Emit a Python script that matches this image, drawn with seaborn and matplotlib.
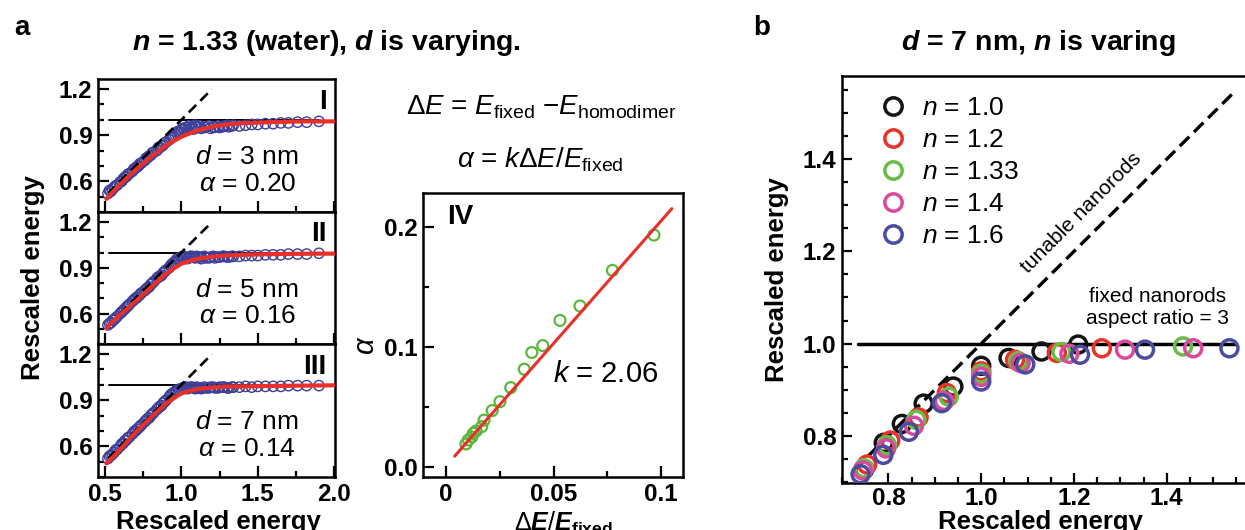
import numpy as np
import pandas as pd
import matplotlib
matplotlib.use("Agg")
import matplotlib.pyplot as plt
import seaborn as sns
from matplotlib.lines import Line2D
from matplotlib.ticker import MultipleLocator

# ---------------- data ----------------
# panel a (I-III): rescaled energy scatter (blue) + red fits
blue_x = [0.52, 0.53, 0.54, 0.56, 0.57, 0.58, 0.60, 0.61, 0.62, 0.64,
          0.65, 0.66, 0.68, 0.69, 0.70, 0.72, 0.73, 0.74, 0.76, 0.77,
          0.78, 0.80, 0.81, 0.82, 0.84, 0.85, 0.86, 0.88, 0.89, 0.90,
          0.92, 0.93, 0.94, 0.96, 0.97, 0.98, 1.00, 1.01, 1.03, 1.05,
          1.07, 1.09, 1.11, 1.13, 1.16, 1.19, 1.22, 1.25, 1.28, 1.31,
          1.34, 1.38, 1.42, 1.46, 1.50, 1.55, 1.60, 1.65, 1.70, 1.76,
          1.82, 1.90]
d3_y = [0.52, 0.54, 0.535, 0.56, 0.57, 0.575, 0.595, 0.60, 0.615, 0.63,
        0.645, 0.65, 0.665, 0.68, 0.685, 0.70, 0.715, 0.72, 0.735, 0.75,
        0.755, 0.77, 0.785, 0.79, 0.80, 0.82, 0.82, 0.835, 0.85, 0.855,
        0.87, 0.885, 0.89, 0.905, 0.92, 0.925, 0.935, 0.945, 0.95, 0.96,
        0.955, 0.965, 0.95, 0.945, 0.955, 0.945, 0.955, 0.95, 0.96, 0.955,
        0.965, 0.96, 0.965, 0.97, 0.97, 0.975, 0.975, 0.98, 0.98, 0.985,
        0.985, 0.99]
d5_y = [0.525, 0.535, 0.54, 0.56, 0.57, 0.58, 0.60, 0.61, 0.62, 0.64,
        0.65, 0.66, 0.68, 0.69, 0.70, 0.715, 0.725, 0.735, 0.75, 0.76,
        0.77, 0.79, 0.80, 0.81, 0.83, 0.84, 0.845, 0.865, 0.875, 0.885,
        0.90, 0.915, 0.925, 0.94, 0.955, 0.96, 0.97, 0.975, 0.97, 0.965,
        0.975, 0.965, 0.97, 0.96, 0.965, 0.97, 0.965, 0.97, 0.975, 0.97,
        0.975, 0.975, 0.98, 0.98, 0.98, 0.985, 0.985, 0.985, 0.99, 0.99,
        0.99, 0.995]
d7_y = [0.52, 0.535, 0.54, 0.56, 0.575, 0.58, 0.60, 0.615, 0.62, 0.64,
        0.655, 0.66, 0.68, 0.695, 0.70, 0.72, 0.73, 0.74, 0.76, 0.77,
        0.78, 0.80, 0.81, 0.82, 0.84, 0.85, 0.86, 0.88, 0.89, 0.90,
        0.92, 0.935, 0.94, 0.955, 0.965, 0.97, 0.975, 0.98, 0.985, 0.98,
        0.985, 0.975, 0.98, 0.975, 0.98, 0.985, 0.98, 0.985, 0.985, 0.98,
        0.985, 0.985, 0.99, 0.985, 0.99, 0.99, 0.99, 0.99, 0.995, 0.995,
        0.995, 0.995]
# extra overlapping points near the knee / plateau (denser cloud)
extra_x = [0.55, 0.63, 0.71, 0.79, 0.87, 0.95, 0.99, 1.02, 1.04, 1.06,
           1.08, 1.10, 1.12, 1.15, 1.18, 1.21, 1.24, 1.27, 1.30, 1.33]
extra3_y = [0.55, 0.625, 0.695, 0.765, 0.83, 0.895, 0.92, 0.94, 0.935, 0.945,
            0.94, 0.955, 0.96, 0.95, 0.96, 0.95, 0.96, 0.955, 0.965, 0.96]
extra5_y = [0.555, 0.63, 0.705, 0.775, 0.85, 0.935, 0.955, 0.965, 0.96, 0.975,
            0.97, 0.975, 0.97, 0.975, 0.965, 0.975, 0.97, 0.975, 0.97, 0.975]
extra7_y = [0.55, 0.635, 0.71, 0.785, 0.865, 0.95, 0.965, 0.985, 0.975, 0.985,
            0.98, 0.985, 0.98, 0.985, 0.98, 0.985, 0.98, 0.985, 0.98, 0.985]
fit_x = [0.51, 0.58, 0.69, 0.80, 0.90, 1.00, 1.10, 1.20, 1.30, 1.40, 1.60, 1.80, 2.00]
fit3_y = [0.485, 0.56, 0.665, 0.757, 0.834, 0.89, 0.93, 0.955, 0.97, 0.978, 0.986, 0.99, 0.99]
fit5_y = [0.505, 0.575, 0.67, 0.77, 0.862, 0.927, 0.958, 0.973, 0.981, 0.985, 0.99, 0.992, 0.993]
fit7_y = [0.488, 0.557, 0.68, 0.787, 0.88, 0.945, 0.972, 0.983, 0.988, 0.99, 0.993, 0.995, 0.997]
diag_a = [0.52, 1.20]
hline_a_x = [0.53, 1.90]
panel_a_labels = ["I", "II", "III"]
panel_a_d = ["3", "5", "7"]
panel_a_alpha = ["0.20", "0.16", "0.14"]

# panel IV: alpha vs dE/E_fixed
iv_x = [0.0093, 0.0104, 0.0120, 0.0127, 0.0140, 0.0166, 0.0177, 0.0215, 0.0251,
        0.0301, 0.0364, 0.0399, 0.0450, 0.0530, 0.0623, 0.0774, 0.0967]
iv_y = [0.0192, 0.0225, 0.0250, 0.0280, 0.0300, 0.0336, 0.0390, 0.0470, 0.0544,
        0.0661, 0.0814, 0.0953, 0.1010, 0.1220, 0.1340, 0.1636, 0.1930]
iv_fit_x = [0.004, 0.105]
iv_fit_y = [0.009, 0.215]

# panel b: d = 7 nm, n varying
n_labels = ["1.0", "1.2", "1.33", "1.4", "1.6"]
n_colors = ["#141414", "#e8332c", "#69bd45", "#d8499f", "#4b4c9e"]
b_x = {
    "1.0":  [0.748, 0.790, 0.829, 0.876, 0.940, 1.000, 1.059, 1.130, 1.209],
    "1.2":  [0.754, 0.804, 0.865, 0.926, 1.000, 1.073, 1.163, 1.260],
    "1.33": [0.747, 0.797, 0.860, 0.930, 1.000, 1.080, 1.173, 1.435],
    "1.4":  [0.745, 0.795, 0.855, 0.920, 1.000, 1.085, 1.190, 1.310, 1.457],
    "1.6":  [0.740, 0.789, 0.844, 0.915, 1.000, 1.095, 1.213, 1.353, 1.535],
}
b_y = {
    "1.0":  [0.728, 0.785, 0.826, 0.870, 0.907, 0.952, 0.969, 0.983, 0.998],
    "1.2":  [0.738, 0.790, 0.840, 0.893, 0.940, 0.965, 0.980, 0.990],
    "1.33": [0.730, 0.780, 0.835, 0.885, 0.935, 0.962, 0.982, 0.994],
    "1.4":  [0.725, 0.773, 0.822, 0.876, 0.928, 0.958, 0.978, 0.987, 0.990],
    "1.6":  [0.717, 0.759, 0.809, 0.871, 0.918, 0.955, 0.976, 0.987, 0.990],
}
diag_b = [0.725, 1.54]
hline_b_x = [0.735, 1.55]

a_xticks = [0.5, 1.0, 1.5, 2.0]
a_xticklabels = ["0.5", "1.0", "1.5", "2.0"]
a_yticks = [0.6, 0.9, 1.2]
a_yticklabels = ["0.6", "0.9", "1.2"]
iv_xticks = [0.0, 0.05, 0.1]
iv_xticklabels = ["0", "0.05", "0.1"]
iv_yticks = [0.0, 0.1, 0.2]
iv_yticklabels = ["0.0", "0.1", "0.2"]
b_ticks = [0.8, 1.0, 1.2, 1.4]
b_ticklabels = ["0.8", "1.0", "1.2", "1.4"]

# ---------------- style ----------------
sns.set_theme(style="ticks")
plt.rcParams['font.family'] = ['Liberation Sans', 'DejaVu Sans']
plt.rcParams['text.color'] = 'black'
plt.rcParams['axes.labelcolor'] = 'black'
plt.rcParams['xtick.color'] = 'black'
plt.rcParams['ytick.color'] = 'black'
plt.rcParams['mathtext.fontset'] = 'custom'
plt.rcParams['mathtext.rm'] = 'Liberation Sans'
plt.rcParams['mathtext.it'] = 'Liberation Sans:italic'
plt.rcParams['mathtext.bf'] = 'Liberation Sans:bold'
try:
    plt.rcParams['mathtext.bfit'] = 'Liberation Sans:bold:italic'
except KeyError:
    pass

W, H = 1245, 530
fig = plt.figure(figsize=(W / 100, H / 100), dpi=100)


def px_axes(l, t, r, b):
    return fig.add_axes([l / W, 1 - b / H, (r - l) / W, (b - t) / H])


def ftext(x, y, s, **kw):
    return fig.text(x / W, 1 - y / H, s, **kw)


def open_scatter(ax, x, y, color, s, lw):
    sns.scatterplot(x=x, y=y, color=color, s=s, linewidth=lw, ax=ax, legend=False)
    coll = ax.collections[-1]
    coll.set_facecolors('none')
    coll.set_edgecolors(color)
    coll.set_linewidths(lw)


TICK_FONT = 17.5


def style_axes(ax, lw=1.8):
    for sp in ax.spines.values():
        sp.set_linewidth(lw)
        sp.set_color('black')
        sp.set_visible(True)
    ax.tick_params(which='both', direction='in', top=False, right=False,
                   colors='black', width=1.6)
    ax.tick_params(which='major', length=8, labelsize=TICK_FONT, pad=4)
    ax.tick_params(which='minor', length=4.5)
    ax.set_xlabel('')
    ax.set_ylabel('')


BLUE = "#3d3f9a"
RED = "#e8302a"

# ---------------- panel a I-III ----------------
axes_a = [px_axes(98, 79, 335, 212), px_axes(98, 212, 335, 344), px_axes(98, 344, 335, 477)]
ys_a = [d3_y, d5_y, d7_y]
extras_a = [extra3_y, extra5_y, extra7_y]
fits_a = [fit3_y, fit5_y, fit7_y]
for i, ax in enumerate(axes_a):
    ax.plot(hline_a_x, [1.0, 1.0], color='black', lw=1.4, zorder=1)
    ax.plot(diag_a, diag_a, color='black', lw=1.9, ls=(0, (4, 2.2)), zorder=4)
    open_scatter(ax, blue_x + extra_x, ys_a[i] + extras_a[i], BLUE, 55, 1.0)
    sns.lineplot(x=fit_x, y=fits_a[i], sort=False, color=RED, lw=3.0, ax=ax, zorder=5)
    ax.set_xlim(0.455, 2.005)
    ax.set_ylim(0.40, 1.266)
    style_axes(ax)
    ax.set_xticks(a_xticks)
    ax.xaxis.set_minor_locator(MultipleLocator(0.25))
    ax.set_yticks(a_yticks)
    ax.set_yticklabels(a_yticklabels, fontsize=TICK_FONT, fontweight='bold')
    ax.yaxis.set_minor_locator(MultipleLocator(0.1))
    if i < 2:
        ax.set_xticklabels([])
    else:
        ax.set_xticklabels(a_xticklabels, fontsize=TICK_FONT, fontweight='bold')
        ax.tick_params(axis='x', pad=4)
    ax.text(0.965, 0.83, panel_a_labels[i], transform=ax.transAxes, ha='right', va='center',
            fontsize=20, fontweight='bold')
    ax.text(0.63, 0.41, r"$d$ = %s nm" % panel_a_d[i], transform=ax.transAxes,
            ha='center', va='center', fontsize=19)
    ax.text(0.63, 0.21, r"$\alpha$ = %s" % panel_a_alpha[i], transform=ax.transAxes,
            ha='center', va='center', fontsize=19)

# ---------------- panel IV ----------------
axIV = px_axes(423, 193, 683, 477)
open_scatter(axIV, iv_x, iv_y, "#5bb83c", 62, 1.6)
sns.lineplot(x=iv_fit_x, y=iv_fit_y, color=RED, lw=2.2, ax=axIV, zorder=5)
axIV.set_xlim(-0.0107, 0.1102)
axIV.set_ylim(-0.0083, 0.228)
style_axes(axIV)
axIV.set_xticks(iv_xticks)
axIV.set_xticklabels(iv_xticklabels, fontsize=TICK_FONT, fontweight='bold')
axIV.xaxis.set_minor_locator(MultipleLocator(0.025))
axIV.set_yticks(iv_yticks)
axIV.set_yticklabels(iv_yticklabels, fontsize=TICK_FONT, fontweight='bold')
axIV.yaxis.set_minor_locator(MultipleLocator(0.05))
axIV.tick_params(axis='x', pad=4)
axIV.text(0.092, 0.915, "IV", transform=axIV.transAxes, ha='left', va='center',
          fontsize=20, fontweight='bold')
axIV.text(0.0744, 0.0775, r"$k$ = 2.06", ha='center', va='center', fontsize=21)

# ---------------- panel b ----------------
axB = px_axes(842, 76, 1248, 483)
axB.plot(hline_b_x, [1.0, 1.0], color='black', lw=2.5, zorder=1)
axB.plot(diag_b, diag_b, color='black', lw=2.4, ls=(0, (4, 2)), zorder=1)
rows = []
for lab in n_labels:
    for xv, yv in zip(b_x[lab], b_y[lab]):
        rows.append({"x": xv, "y": yv, "n": lab})
df_b = pd.DataFrame(rows)
pal = dict(zip(n_labels, n_colors))
sns.scatterplot(data=df_b, x="x", y="y", hue="n", palette=pal, s=150,
                linewidth=2.5, ax=axB, legend=False, zorder=3)
coll = axB.collections[-1]
fc = coll.get_facecolors()
coll.set_edgecolors(fc)
coll.set_facecolors('none')
coll.set_linewidths(2.5)
axB.set_xlim(0.70, 1.575)
axB.set_ylim(0.698, 1.58)
style_axes(axB, lw=1.8)
axB.set_xticks(b_ticks)
axB.set_xticklabels(b_ticklabels, fontsize=TICK_FONT, fontweight='bold')
axB.set_yticks(b_ticks)
axB.set_yticklabels(b_ticklabels, fontsize=TICK_FONT, fontweight='bold')
axB.xaxis.set_minor_locator(MultipleLocator(0.05))
axB.yaxis.set_minor_locator(MultipleLocator(0.05))
axB.tick_params(which='major', length=7)
axB.tick_params(which='minor', length=4.5)
axB.tick_params(axis='x', pad=3)
axB.spines['right'].set_visible(False)

handles = [Line2D([], [], ls='', marker='o', ms=12.5, mfc='none', mec=c, mew=2.5)
           for c in n_colors]
leg = axB.legend(handles, [r"$n$ = %s" % l for l in n_labels], loc='upper left',
                 bbox_to_anchor=(0.094, 0.95), frameon=False, fontsize=19,
                 handlelength=1.0, handletextpad=0.6, labelspacing=0.3,
                 borderpad=0, borderaxespad=0)
axB.text(1.215, 1.283, "tunable nanorods", rotation=45, ha='center', va='center',
         fontsize=15, rotation_mode='anchor')
axB.text(1.38, 1.078, "fixed nanorods\naspect ratio = 3", ha='center', va='center',
         fontsize=15, linespacing=1.2)

# ---------------- figure texts ----------------
ftext(22, 28, "a", fontsize=20, fontweight='bold', ha='center', va='center')
ftext(326, 43, r"$\mathbfit{n}$ = 1.33 (water), $\mathbfit{d}$ is varying.",
      fontsize=20.5, fontweight='bold', ha='center', va='center')
ftext(762, 28, "b", fontsize=20, fontweight='bold', ha='center', va='center')
ftext(1038, 43, r"$\mathbfit{d}$ = 7 nm, $\mathbfit{n}$ is varing",
      fontsize=20.5, fontweight='bold', ha='center', va='center')
ftext(541, 107, r"$\Delta E$ = $E_{\mathrm{fixed}}$ $-E_{\mathrm{homodimer}}$",
      fontsize=20, ha='center', va='center')
ftext(540, 160, r"$\alpha$ = $k\Delta E/E_{\mathrm{fixed}}$",
      fontsize=20, ha='center', va='center')
ftext(33, 278, "Rescaled energy", rotation=90, fontsize=18.5, fontweight='bold',
      ha='center', va='center')
ftext(218, 522, "Rescaled energy", fontsize=18.5, fontweight='bold',
      ha='center', va='center')
ftext(366, 345, r"$\alpha$", rotation=90, fontsize=21, ha='center', va='center')
ftext(563, 523, r"$\Delta\mathbfit{E}/\mathbfit{E}_{\mathbf{fixed}}$", fontsize=18,
      ha='center', va='center')
ftext(777, 280, "Rescaled energy", rotation=90, fontsize=18.5, fontweight='bold',
      ha='center', va='center')
ftext(1040, 522, "Rescaled energy", fontsize=18.5, fontweight='bold',
      ha='center', va='center')

fig.savefig("out.png", dpi=100)
